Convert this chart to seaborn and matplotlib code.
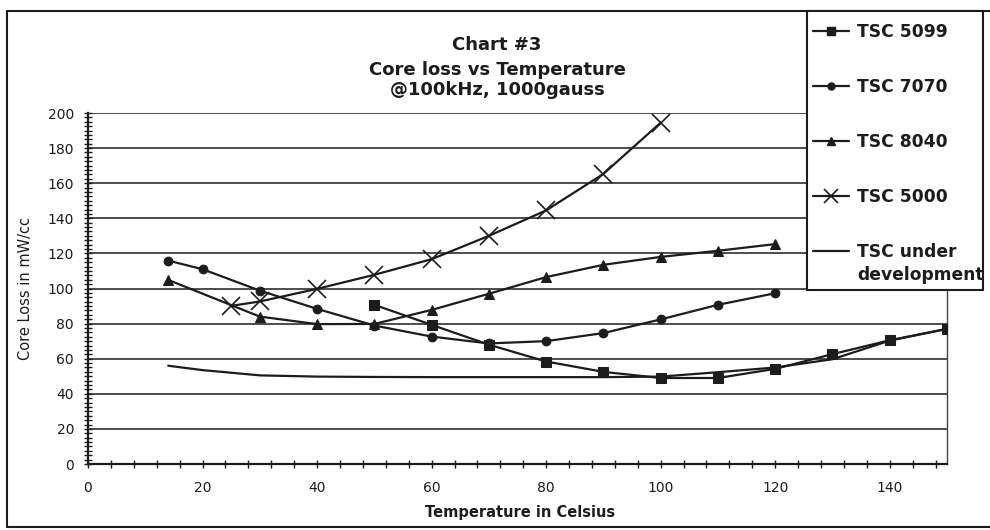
import matplotlib
matplotlib.use("Agg")
import matplotlib.pyplot as plt
from matplotlib.lines import Line2D
from matplotlib.patches import Rectangle
from matplotlib.ticker import MultipleLocator
import seaborn as sns
import pandas as pd

# ---- data ----
temp_5099 = [50, 60, 70, 80, 90, 100, 110, 120, 130, 140, 150]
loss_5099 = [90.7, 79.3, 68.0, 58.4, 52.5, 49.0, 49.0, 54.2, 62.6, 70.5, 77.0]

temp_7070 = [14, 20, 30, 40, 50, 60, 70, 80, 90, 100, 110, 120]
loss_7070 = [115.9, 111.0, 98.8, 88.4, 78.9, 72.6, 68.7, 70.0, 74.6, 82.4, 90.7, 97.3]

temp_8040 = [14, 30, 40, 50, 60, 70, 80, 90, 100, 110, 120]
loss_8040 = [104.9, 84.0, 79.7, 79.8, 87.8, 97.0, 106.5, 113.5, 118.0, 121.5, 125.3]

temp_5000 = [25, 30, 40, 50, 60, 70, 80, 90, 100]
loss_5000 = [90.1, 92.6, 99.8, 107.8, 116.7, 130.0, 144.5, 165.3, 194.5]

temp_dev = [14, 20, 30, 40, 50, 60, 70, 80, 90, 100, 110, 120, 130, 140, 150]
loss_dev = [56.0, 53.5, 50.5, 49.8, 49.6, 49.5, 49.5, 49.5, 49.5, 49.8, 52.3, 55.0, 59.7, 70.3, 77.0]

series_names = ["TSC 5099", "TSC 7070", "TSC 8040", "TSC 5000", "TSC under development"]
title_lines = ["Chart #3", "Core loss vs Temperature", "@100kHz, 1000gauss"]
x_label = "Temperature in Celsius"
y_label = "Core Loss in mW/cc"
x_ticks = [0, 20, 40, 60, 80, 100, 120, 140]
y_ticks = [0, 20, 40, 60, 80, 100, 120, 140, 160, 180, 200]

# ---- style ----
sns.set_style("white")
plt.rcParams["font.family"] = ["DejaVu Sans"]
INK = "#1c1c1c"

W, H = 990, 530
fig = plt.figure(figsize=(W / 100, H / 100), dpi=100)
fig.patch.set_facecolor("white")

def fx(px):
    return px / W

def fy(py):
    return 1 - py / H

ax_l, ax_r, ax_t, ax_b = 88, 947, 113, 464
ax = fig.add_axes([fx(ax_l), fy(ax_b), fx(ax_r - ax_l), (ax_b - ax_t) / H])

styles = [
    dict(marker="s", markersize=6.5),
    dict(marker="o", markersize=6.3),
    dict(marker="^", markersize=7.2),
    dict(marker="x", markersize=13, markeredgewidth=1.2),
    dict(marker=None),
]
datasets = [
    (temp_5099, loss_5099),
    (temp_7070, loss_7070),
    (temp_8040, loss_8040),
    (temp_5000, loss_5000),
    (temp_dev, loss_dev),
]

for name, (t, v), st in zip(series_names, datasets, styles):
    df = pd.DataFrame({"Temperature": t, "Loss": v})
    sns.lineplot(data=df, x="Temperature", y="Loss", ax=ax, color=INK,
                 linewidth=1.6, markeredgecolor=INK, markerfacecolor=INK,
                 legend=False, zorder=3, **st)

ax.set_xlim(0, 150)
ax.set_ylim(0, 200)
ax.set_xticks(x_ticks)
ax.set_yticks(y_ticks)
ax.xaxis.set_minor_locator(MultipleLocator(4))
ax.yaxis.set_minor_locator(MultipleLocator(2.5))
ax.tick_params(axis="both", which="both", direction="inout", length=6,
               width=1, color=INK, labelcolor=INK, labelsize=10,
               bottom=True, left=True, top=False, right=False)
ax.tick_params(axis="x", which="major", pad=9.5)
ax.tick_params(axis="y", which="major", pad=7)
ax.set_xlabel("")
ax.set_ylabel("")

ax.grid(False)
for y in y_ticks[1:]:
    ax.axhline(y, color=INK, linewidth=1.1, zorder=1)

for s in ["left", "bottom"]:
    ax.spines[s].set_color(INK)
    ax.spines[s].set_linewidth(1.6)
ax.spines["top"].set_visible(False)
ax.spines["right"].set_color("#444444")
ax.spines["right"].set_linewidth(1.0)
ax.spines["right"].set_linestyle((0, (1, 1)))
ax.set_facecolor("white")

# axis labels
fig.text(fx(520), fy(512), x_label, ha="center", va="center",
         fontsize=10.5, fontweight="bold", color=INK)
fig.text(fx(26), fy(288), y_label, ha="center", va="center", rotation=90,
         fontsize=10.5, color=INK)

# title
for line, base in zip(title_lines, [49.5, 75, 95]):
    fig.text(fx(497), fy(base), line, ha="center", va="baseline",
             fontsize=13, fontweight="bold", color=INK)

# outer chart border
border_kw = dict(color=INK, linewidth=1.5, transform=fig.transFigure)
fig.add_artist(Line2D([fx(7), fx(7)], [fy(11), fy(527)], **border_kw))
fig.add_artist(Line2D([fx(7), 1.0], [fy(11), fy(11)], **border_kw))
fig.add_artist(Line2D([fx(7), 1.0], [fy(527), fy(527)], **border_kw))

# legend box
fig.add_artist(Rectangle((fx(807), fy(290)), fx(983 - 807), (290 - 11) / H,
                         transform=fig.transFigure, facecolor="white",
                         edgecolor=INK, linewidth=1.5, zorder=5))
leg_rows = [37, 92, 147, 202, 257]
for name, st, base in zip(series_names, styles, leg_rows):
    yc = base - 6.5
    fig.add_artist(Line2D([fx(813), fx(849)], [fy(yc), fy(yc)],
                          transform=fig.transFigure, color=INK, linewidth=1.6,
                          zorder=6))
    if st.get("marker"):
        kw = dict(st)
        kw["markersize"] = kw["markersize"] * 0.8
        fig.add_artist(Line2D([fx(831)], [fy(yc)], transform=fig.transFigure,
                              color=INK, linestyle="none", zorder=7,
                              markerfacecolor=INK, markeredgecolor=INK, **kw))
    if name == "TSC under development":
        fig.text(fx(857), fy(base), "TSC under", ha="left", va="baseline",
                 fontsize=12.3, fontweight="bold", color=INK, zorder=8)
        fig.text(fx(857), fy(base + 22.5), "development", ha="left", va="baseline",
                 fontsize=12.3, fontweight="bold", color=INK, zorder=8)
    else:
        fig.text(fx(857), fy(base), name, ha="left", va="baseline",
                 fontsize=12.3, fontweight="bold", color=INK, zorder=8)

fig.savefig("out.png", dpi=100, facecolor="white")
